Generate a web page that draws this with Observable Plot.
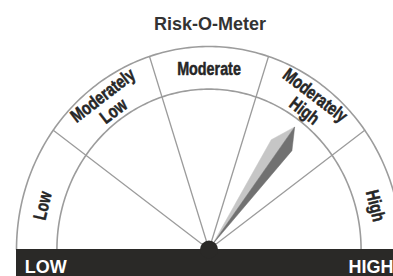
<!DOCTYPE html>
<html><head><meta charset="utf-8">
<script src="https://cdn.jsdelivr.net/npm/d3@7"></script>
<script src="https://cdn.jsdelivr.net/npm/@observablehq/plot@0.6"></script>
<style>html,body{margin:0;padding:0;background:#fff;overflow:hidden}</style>
</head><body><div id="chart"></div>
<script>
// ---- data ----
const title = "Risk-O-Meter";
const segments = ["Low", "Moderately Low", "Moderate", "Moderately High", "High"];
const segmentLines = [["Low"], ["Moderately", "Low"], ["Moderate"], ["Moderately", "High"], ["High"]];
const endLabels = ["LOW", "HIGH"];
const needleLevel = 3.5; // on the 0..5 segment scale: middle of "Moderately High"

// ---- layout ----
const W = 393, H = 276;
const cx = 208.5, cy = 249, rx = 192.5, ry = 203; // pivot and outer radii in px
const R_IN = 0.79;
const n = segments.length;
const deg = Math.PI / 180;
const toAngle = v => 180 - v * 180 / n;
const polar = (r, a) => ({x: r * Math.cos(a * deg), y: r * Math.sin(a * deg)});
const tangentRot = a => Math.atan2(Math.cos(a * deg) * ry, Math.sin(a * deg) * rx) / deg;

const arcs = [1, R_IN].flatMap(r => d3.range(0, 181, 1).map(a => ({...polar(r, a), r})));
const dividers = d3.range(1, n).flatMap(i => [{...polar(0, 0), i}, {...polar(1, toAngle(i)), i}]);

const labelAngle = i => i === 0 ? 166 : i === n - 1 ? 14 : toAngle(i + 0.5);
const labels = segmentLines.flatMap((lines, i) => lines.map((t, j) => {
  const m = lines.length;
  const r = 0.89 + (m - 1) / 2 * 0.095 - j * 0.095;
  const a = labelAngle(i);
  return {...polar(r, a), text: t, rotate: tangentRot(a)};
}));

const na = toAngle(needleLevel);
const np = (r, off) => polar(r, na + off);
const B = np(0.03, 0), T = np(0.75, -0.4), L = np(0.63, 5.1), Rr = np(0.65, -5.5);
const needle = [
  ...[B, L, T, B].map(p => ({...p, part: "light"})),
  ...[B, T, Rr, B].map(p => ({...p, part: "dark"}))
];

const bold = "'Liberation Sans', Arial, Helvetica, sans-serif";
const chart = Plot.plot({
  width: W, height: H,
  margin: 0,
  x: {domain: [-cx / rx, (W - cx) / rx], axis: null},
  y: {domain: [-(H - cy) / ry, cy / ry], axis: null},
  style: {background: "#fff"},
  marks: [
    Plot.line(arcs, {x: "x", y: "y", z: "r", stroke: "#9c9c9c", strokeWidth: 1.6}),
    Plot.line(dividers, {x: "x", y: "y", z: "i", stroke: "#9c9c9c", strokeWidth: 1.3}),
    Plot.line(needle.filter(d => d.part === "light"), {x: "x", y: "y", fill: "#c6c6c6", stroke: "#c6c6c6", strokeWidth: 0.5}),
    Plot.line(needle.filter(d => d.part === "dark"), {x: "x", y: "y", fill: "#717171", stroke: "#717171", strokeWidth: 0.5}),
    Plot.rect([0], {x1: -1, x2: 1.2, y1: -(H - cy) / ry - 0.1, y2: 0, fill: "#2a2927"}),
    Plot.dot([0], {x: () => 0, y: () => 0, r: 9, fill: "#2a2927", stroke: null}),
    Plot.text(labels, {x: "x", y: "y", text: "text", rotate: "rotate",
      fontFamily: bold, fontWeight: "bold", fontSize: 17.5, fill: "#262626",
      stroke: "#262626", strokeWidth: 0.5, paintOrder: "stroke"}),
    Plot.text([title], {frameAnchor: "top", lineAnchor: "middle", dx: 13, dy: 23.5, fontFamily: bold,
      fontWeight: "bold", fontSize: 18, fill: "#333"}),
    Plot.text([endLabels[0]], {frameAnchor: "bottom-left", lineAnchor: "middle", textAnchor: "start", dx: 24.3, dy: -9.3,
      fontFamily: bold, fontWeight: "bold", fontSize: 18, fill: "#fff"}),
    Plot.text([endLabels[1]], {frameAnchor: "bottom-right", lineAnchor: "middle", textAnchor: "end", dx: 0, dy: -9.3,
      fontFamily: bold, fontWeight: "bold", fontSize: 18, fill: "#fff"})
  ]
});
// condensed look for the segment labels
const labelSet = new Set(labels.map(d => d.text));
d3.select(chart).selectAll("text").filter(function () { return labelSet.has(this.textContent); }).each(function () {
  const t = this.getAttribute("transform") || "";
  this.setAttribute("transform", t + " scale(0.82,1.05)");
});
document.getElementById("chart").append(chart);
</script>
</body></html>
